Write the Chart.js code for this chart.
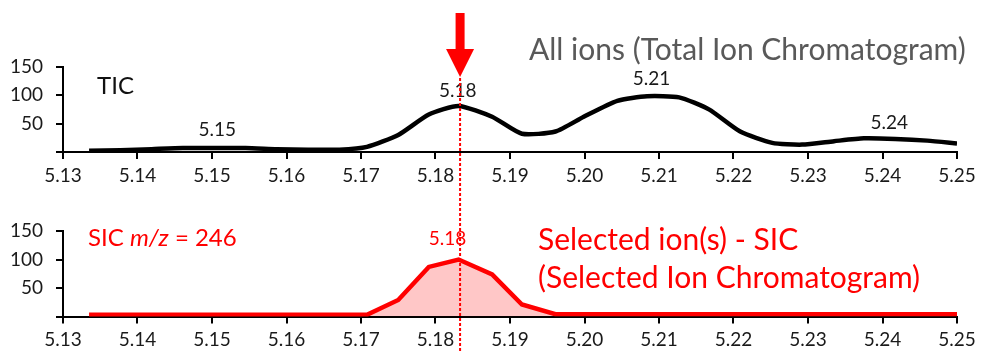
<!DOCTYPE html>
<html lang="en">
<head>
<meta charset="utf-8">
<title>TIC / SIC</title>
<script src="https://cdn.jsdelivr.net/npm/chart.js@4.4.1/dist/chart.umd.min.js"></script>
<style>
  html, body { margin: 0; padding: 0; background: #fff; }
  #wrap { position: relative; width: 984px; height: 353px; }
  #wrap canvas { position: absolute; left: 0; top: 0; }
</style>
</head>
<body>
<div id="wrap">
  <canvas id="tic" width="984" height="353"></canvas>
  <canvas id="sic" width="984" height="353"></canvas>
</div>
<script>
// retention times (min) and intensities
const times = [5.1335, 5.1377, 5.1419, 5.1461, 5.1503, 5.1545, 5.1587, 5.1629, 5.1671, 5.1708,
               5.1750, 5.1791, 5.1831, 5.1876, 5.1916, 5.1961, 5.1999, 5.2044, 5.2084, 5.2127,
               5.2167, 5.2209, 5.2252, 5.2292, 5.2335, 5.2375, 5.2417, 5.2460, 5.2500];
const ticValues = [2, 3, 5, 7, 7, 7, 5, 4, 4, 9,
                   30, 66, 81, 62, 32, 36, 62, 90, 98, 96,
                   75, 36, 16, 13, 19, 24, 23, 20, 15];
const sicValues = [3, 3, 3, 3, 3, 3, 3, 3, 3, 3,
                   29, 87, 100, 74, 21, 4, 4, 4, 4, 4,
                   4, 4, 4, 4, 4, 4, 4, 4, 4];
const xTicks = [5.13, 5.14, 5.15, 5.16, 5.17, 5.18, 5.19, 5.20, 5.21, 5.22, 5.23, 5.24, 5.25];
const yTicks = [0, 50, 100, 150];
const markerTime = 5.1833;

const FONT = 'Lato';
const RED = '#ff0000';

// draws free text; data:true means x/y are in scale units
const notesPlugin = {
  id: 'notes',
  afterDatasetsDraw(chart, args, opts) {
    const ctx = chart.ctx;
    ctx.save();
    ctx.textBaseline = 'alphabetic';
    (opts.items || []).forEach(it => {
      let x = it.x, y = it.y;
      if (it.data) {
        x = chart.scales.x.getPixelForValue(it.x);
        y = chart.scales.y.getPixelForValue(it.y);
      }
      const runs = Array.isArray(it.text) ? it.text : [{ t: it.text }];
      const fontOf = r => (r.italic ? 'italic ' : '') + it.size + 'px ' + FONT;
      let total = 0;
      runs.forEach(r => { ctx.font = fontOf(r); total += ctx.measureText(r.t).width; });
      let cx = it.align === 'center' ? x - total / 2 : x;
      ctx.fillStyle = it.color;
      ctx.textAlign = 'left';
      runs.forEach(r => {
        ctx.font = fontOf(r);
        ctx.fillText(r.t, cx, y);
        cx += ctx.measureText(r.t).width;
      });
    });
    ctx.restore();
  }
};

// red arrow + dotted marker line across both panels
const markerPlugin = {
  id: 'marker',
  afterDraw(chart) {
    const ctx = chart.ctx;
    const mx = chart.scales.x.getPixelForValue(markerTime);
    ctx.save();
    ctx.strokeStyle = RED;
    ctx.lineWidth = 2;
    ctx.setLineDash([3, 2]);
    ctx.beginPath();
    ctx.moveTo(mx, 78);
    ctx.lineTo(mx, 353);
    ctx.stroke();
    ctx.setLineDash([]);
    ctx.fillStyle = RED;
    ctx.fillRect(mx - 4.5, 13, 9, 37);
    ctx.beginPath();
    ctx.moveTo(mx - 14, 49);
    ctx.lineTo(mx + 14, 49);
    ctx.lineTo(mx, 77);
    ctx.closePath();
    ctx.fill();
    ctx.restore();
  }
};

function scalesFor() {
  return {
    x: {
      type: 'linear', min: 5.13, max: 5.25,
      afterBuildTicks: s => { s.ticks = xTicks.map(v => ({ value: v })); },
      afterFit: s => { s.height = 30; },
      border: { display: true, color: '#000', width: 2 },
      grid: { display: true, drawOnChartArea: false, drawTicks: true, tickLength: 7, color: '#000', lineWidth: 2 },
      ticks: { autoSkip: false, maxRotation: 0, padding: 5, color: '#1a1a1a',
               font: { family: FONT, size: 19 }, callback: v => v.toFixed(2) }
    },
    y: {
      min: 0, max: 150,
      afterBuildTicks: s => { s.ticks = yTicks.map(v => ({ value: v })); },
      afterFit: s => { s.width = 63; },
      border: { display: true, color: '#000', width: 2 },
      grid: { display: true, drawOnChartArea: false, drawTicks: true, tickLength: 7, color: '#000', lineWidth: 2 },
      ticks: { padding: 13, color: '#1a1a1a', font: { family: FONT, size: 19 },
               callback: v => (v === 0 ? '' : String(v)) }
    }
  };
}

new Chart(document.getElementById('tic'), {
  type: 'line',
  data: {
    datasets: [{
      data: times.map((t, i) => ({ x: t, y: ticValues[i] })),
      borderColor: '#000', borderWidth: 4.5, pointRadius: 0, tension: 0.2, fill: false
    }]
  },
  options: {
    responsive: false, animation: false,
    layout: { padding: { left: 0, top: 66.7, right: 27, bottom: 171 } },
    plugins: {
      legend: { display: false }, tooltip: { enabled: false },
      notes: { items: [
        { text: 'All ions (Total Ion Chromatogram)', x: 529, y: 60, size: 30, color: '#595959' },
        { text: 'TIC', x: 97, y: 94, size: 24, color: '#111' },
        { text: '5.15', data: true, x: 5.1507, y: 28, size: 19, color: '#1a1a1a', align: 'center' },
        { text: '5.18', data: true, x: 5.1830, y: 97, size: 19, color: '#1a1a1a', align: 'center' },
        { text: '5.21', data: true, x: 5.2090, y: 118, size: 19, color: '#1a1a1a', align: 'center' },
        { text: '5.24', data: true, x: 5.2409, y: 40, size: 19, color: '#1a1a1a', align: 'center' }
      ] }
    },
    scales: scalesFor()
  },
  plugins: [notesPlugin]
});

new Chart(document.getElementById('sic'), {
  type: 'line',
  data: {
    datasets: [{
      data: times.map((t, i) => ({ x: t, y: sicValues[i] })),
      borderColor: RED, borderWidth: 4.5, pointRadius: 0, tension: 0,
      fill: 'origin', backgroundColor: 'rgba(255,0,0,0.22)'
    }]
  },
  options: {
    responsive: false, animation: false,
    layout: { padding: { left: 0, top: 231, right: 27, bottom: 6.5 } },
    plugins: {
      legend: { display: false }, tooltip: { enabled: false },
      notes: { items: [
        { text: [{ t: 'SIC ' }, { t: 'm/z', italic: true }, { t: ' = 246' }], x: 88, y: 246, size: 24, color: RED },
        { text: '5.18', data: true, x: 5.1816, y: 125, size: 19, color: RED, align: 'center' },
        { text: 'Selected ion(s) - SIC', x: 538, y: 250, size: 30, color: RED },
        { text: '(Selected Ion Chromatogram)', x: 538, y: 288, size: 30, color: RED }
      ] }
    },
    scales: scalesFor()
  },
  plugins: [notesPlugin, markerPlugin]
});
</script>
</body>
</html>
